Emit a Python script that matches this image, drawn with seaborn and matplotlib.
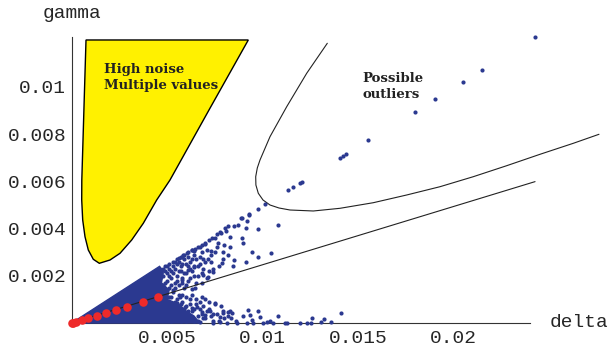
import numpy as np
import pandas as pd
import seaborn as sns
import matplotlib
matplotlib.use("Agg")
import matplotlib.pyplot as plt
from matplotlib.ticker import FixedLocator

# ---------------- data (delta, gamma) ----------------
# "High noise / Multiple values" region boundary
noise_delta = [0.000749, 0.000670, 0.000592, 0.000529, 0.000524, 0.000576, 0.000696,
               0.000869, 0.001131, 0.001445, 0.002005, 0.002529, 0.003141, 0.003749,
               0.004450, 0.005147, 0.007188, 0.009246]
noise_gamma = [0.011992, 0.009873, 0.007754, 0.006059, 0.005212, 0.004364, 0.003657,
               0.003093, 0.002699, 0.002530, 0.002669, 0.002953, 0.003517, 0.004225,
               0.005212, 0.006059, 0.009025, 0.011992]

# "Possible outliers" boundary curve
outl_delta = [0.013382, 0.012304, 0.011257, 0.010382, 0.009859, 0.009717, 0.009634,
              0.009644, 0.009770, 0.010016, 0.010382, 0.010853, 0.011429, 0.012649,
              0.014047, 0.015791, 0.017539, 0.019283, 0.021026, 0.022775, 0.024518,
              0.026262, 0.027607]
outl_gamma = [0.011852, 0.010581, 0.009165, 0.007894, 0.006907, 0.006568, 0.006199,
              0.005847, 0.005496, 0.005212, 0.005000, 0.004873, 0.004788, 0.004746,
              0.004860, 0.005097, 0.005424, 0.005775, 0.006199, 0.006665, 0.007148,
              0.007614, 0.007996]

# straight reference line
line_delta = [0.0, 0.02426]
line_gamma = [0.0, 0.00599]

# red points
red_delta = [0.00000, 0.000094, 0.000225, 0.000524, 0.000869, 0.001309, 0.001780,
             0.002304, 0.002911, 0.003717, 0.004534]
red_gamma = [0.00000, 0.000020, 0.000055, 0.000127, 0.000210, 0.000305, 0.000420,
             0.000545, 0.000695, 0.000890, 0.001089]

# solid dense core of the cloud
core_delta = [0.0, 0.0046, 0.0048, 0.0047, 0.0051, 0.0050, 0.0056, 0.0060, 0.0064, 0.0067]
core_gamma = [0.0, 0.0024, 0.0022, 0.0017, 0.0014, 0.0010, 0.0008, 0.0005, 0.0003, 0.0]

# individual blue points
blue_delta = [
    # outlier chain
    0.024257, 0.021482, 0.020503, 0.019005, 0.017958, 0.015497, 0.014361, 0.014188,
    0.014047, 0.012073, 0.011953, 0.011602, 0.011340, 0.010120, 0.009770, 0.009298,
    0.008901,
    # upper band
    0.009283, 0.008849, 0.009194, 0.008723, 0.008200, 0.008027, 0.010818, 0.009771,
    0.009127, 0.007765, 0.007592, 0.007330, 0.008289, 0.008901, 0.008954, 0.007676,
    0.006980, 0.006718, 0.006456, 0.007294, 0.007906, 0.009425, 0.010435, 0.008289,
    0.006283, 0.006021, 0.005843, 0.007152, 0.007854, 0.008514, 0.009126, 0.009770,
    0.008461, 0.006404, 0.006105, 0.007414, 0.006891, 0.007152, 0.005760, 0.006807,
    0.006456, 0.006283, 0.005320, 0.005671,
    # lower band
    0.007503, 0.005498, 0.005932, 0.006283, 0.006545, 0.005671, 0.006807, 0.007241,
    0.008200, 0.008378, 0.009247, 0.009770, 0.006980, 0.007414, 0.010818, 0.006194,
    0.007765, 0.008341, 0.009425, 0.010383, 0.011168, 0.011954, 0.012305, 0.010032,
    0.008639, 0.007414, 0.006718, 0.011289, 0.012530, 0.012598, 0.013038, 0.013226,
    0.013561, 0.014101, 0.009163, 0.009508, 0.010210, 0.010556, 0.008116, 0.007765,
    0.007938, 0.008985, 0.009859, 0.009335,
    # dense zone: upper edge strip
    0.0036, 0.0038, 0.0039, 0.0041, 0.0042, 0.0044, 0.0045, 0.0046, 0.0048, 0.0049,
    0.0050, 0.0051, 0.0053, 0.0054, 0.0055, 0.0056, 0.0057, 0.0058, 0.0059, 0.0061,
    0.0063, 0.0064, 0.0066, 0.0068, 0.0070, 0.0072, 0.0075, 0.0078, 0.0081, 0.0085,
    # dense zone: above the line
    0.0037, 0.0038, 0.0039, 0.0040, 0.0041, 0.0042, 0.0043, 0.0043, 0.0044, 0.0045,
    0.0046, 0.0046, 0.0047, 0.0048, 0.0048, 0.0049, 0.0050, 0.0050, 0.0051, 0.0052,
    0.0052, 0.0053, 0.0054, 0.0054, 0.0055, 0.0056, 0.0057, 0.0057, 0.0058, 0.0059,
    0.0060, 0.0060, 0.0061, 0.0062, 0.0063, 0.0064, 0.0065, 0.0066, 0.0067, 0.0068,
    0.0070, 0.0071, 0.0073, 0.0074, 0.0076, 0.0079,
    # dense zone: below the line
    0.0037, 0.0038, 0.0040, 0.0041, 0.0042, 0.0043, 0.0044, 0.0045, 0.0046, 0.0047,
    0.0048, 0.0049, 0.0050, 0.0051, 0.0052, 0.0052, 0.0053, 0.0054, 0.0055, 0.0056,
    0.0057, 0.0057, 0.0058, 0.0059, 0.0060, 0.0061, 0.0062, 0.0063, 0.0064, 0.0065,
    0.0066, 0.0067, 0.0068, 0.0069, 0.0071, 0.0072, 0.0074, 0.0076, 0.0078, 0.0080,
    0.0083, 0.0086,
]
blue_gamma = [
    # outlier chain
    0.012106, 0.010720, 0.010212, 0.009479, 0.008941, 0.007742, 0.007148, 0.007076,
    0.006979, 0.005987, 0.005945, 0.005775, 0.005636, 0.005042, 0.004831, 0.004606,
    0.004436,
    # upper band
    0.004589, 0.004436, 0.004334, 0.004165, 0.004110, 0.004012, 0.004152, 0.003983,
    0.004012, 0.003868, 0.003771, 0.003589, 0.003631, 0.003589, 0.003402, 0.003377,
    0.003334, 0.003233, 0.003123, 0.003063, 0.002995, 0.003021, 0.002979, 0.003233,
    0.003093, 0.002953, 0.002881, 0.002699, 0.002555, 0.002669, 0.002597, 0.002784,
    0.002415, 0.002385, 0.002246, 0.002174, 0.002034, 0.001936, 0.001822, 0.001708,
    0.001470, 0.001428, 0.001326, 0.001089,
    # lower band
    0.000835, 0.000835, 0.000691, 0.000623, 0.000665, 0.000551, 0.000479, 0.000508,
    0.000479, 0.000411, 0.000551, 0.000508, 0.000339, 0.000381, 0.000297, 0.000267,
    0.000242, 0.000199, 0.000127, 0.000097, 0.000020, 0.000020, 0.000020, 0.000020,
    0.000020, 0.000020, 0.000055, 0.000010, 0.000020, 0.000199, 0.000030, 0.000157,
    0.000030, 0.000411, 0.000010, 0.000010, 0.000030, 0.000010, 0.000020, 0.000030,
    0.000436, 0.000297, 0.000267, 0.000339,
    # dense zone: upper edge strip
    0.00170, 0.00180, 0.00190, 0.00195, 0.00210, 0.00210, 0.00220, 0.00225, 0.00230, 0.00240,
    0.00240, 0.00250, 0.00260, 0.00260, 0.00270, 0.00275, 0.00280, 0.00280, 0.00290, 0.00300,
    0.00310, 0.00305, 0.00320, 0.00330, 0.00340, 0.00350, 0.00360, 0.00380, 0.00390, 0.00410,
    # dense zone: above the line
    0.0014, 0.0012, 0.0016, 0.0013, 0.0017, 0.0011, 0.0015, 0.0018, 0.0013, 0.0017,
    0.0014, 0.0019, 0.0012, 0.0016, 0.0020, 0.0013, 0.0018, 0.0021, 0.0015, 0.0019,
    0.0022, 0.0014, 0.0017, 0.0023, 0.0020, 0.0016, 0.0022, 0.0024, 0.0019, 0.0015,
    0.0021, 0.0025, 0.0018, 0.0023, 0.0027, 0.0020, 0.0017, 0.0024, 0.0028, 0.0021,
    0.0026, 0.0019, 0.0029, 0.0023, 0.0032, 0.0027,
    # dense zone: below the line
    0.0005, 0.0008, 0.0003, 0.0007, 0.0009, 0.0005, 0.0002, 0.0008, 0.0004, 0.0010,
    0.0006, 0.0002, 0.0009, 0.0005, 0.0011, 0.0001, 0.0007, 0.0003, 0.0010, 0.0005,
    0.0001, 0.0008, 0.0012, 0.0004, 0.0007, 0.0002, 0.0010, 0.0005, 0.0001, 0.0008,
    0.0003, 0.0006, 0.0011, 0.0002, 0.0005, 0.0009, 0.0001, 0.0004, 0.0007, 0.0002,
    0.0005, 0.0001,
]

# extra points filling the dense part of the cloud
cloud_delta = [
    0.0045, 0.0047, 0.0047, 0.0049, 0.0049, 0.0051, 0.0051, 0.0052, 0.0053, 0.0053,
    0.0054, 0.0055, 0.0055, 0.0056, 0.0056, 0.0058, 0.0058, 0.0059, 0.0059, 0.0060,
    0.0061, 0.0061, 0.0062, 0.0062, 0.0063, 0.0064, 0.0064, 0.0065, 0.0066, 0.0067,
    0.0068, 0.0069, 0.0069, 0.0071, 0.0072, 0.0073, 0.0075, 0.0077, 0.0080, 0.0082,
    0.0048, 0.0050, 0.0051, 0.0053, 0.0054, 0.0055, 0.0056, 0.0056, 0.0058, 0.0059,
    0.0060, 0.0060, 0.0061, 0.0062, 0.0063, 0.0063, 0.0064, 0.0065, 0.0066, 0.0067,
    0.0068, 0.0069, 0.0070, 0.0070, 0.0072, 0.0073, 0.0075, 0.0077, 0.0079, 0.0082,
]
cloud_gamma = [
    0.0019, 0.0015, 0.0021, 0.0017, 0.0022, 0.0020, 0.0023, 0.0016, 0.0021, 0.0024,
    0.0015, 0.0018, 0.0025, 0.0022, 0.0026, 0.0017, 0.0025, 0.0021, 0.0027, 0.0016,
    0.0024, 0.0028, 0.0019, 0.0026, 0.0022, 0.0029, 0.0024, 0.0027, 0.0020, 0.0025,
    0.0030, 0.0023, 0.0027, 0.0031, 0.0022, 0.0026, 0.0030, 0.0024, 0.0033, 0.0029,
    0.0010, 0.0006, 0.0011, 0.0003, 0.0009, 0.0006, 0.0012, 0.0002, 0.0009, 0.0006,
    0.0011, 0.0001, 0.0005, 0.0008, 0.0012, 0.0002, 0.0006, 0.0010, 0.0001, 0.0009,
    0.0004, 0.0007, 0.0010, 0.0002, 0.0006, 0.0003, 0.0008, 0.0001, 0.0005, 0.0003,
]

x_ticks = [0.005, 0.01, 0.015, 0.02]
x_tick_labels = ["0.005", "0.01", "0.015", "0.02"]
y_ticks = [0.002, 0.004, 0.006, 0.008, 0.01]
y_tick_labels = ["0.002", "0.004", "0.006", "0.008", "0.01"]

# ---------------- styling ----------------
sns.set_style("white")
plt.rcParams["font.family"] = ["DejaVu Sans"]

BLUE = "#2b3990"
RED = "#ee2a2a"
YELLOW = "#fff100"
MONO = "Liberation Mono"

fig = plt.figure(figsize=(6.11, 3.47), dpi=100)
ax = fig.add_axes([0, 0, 1, 1])

# noise region
ax.fill(noise_delta, noise_gamma, facecolor=YELLOW, edgecolor="black",
        linewidth=1.0, zorder=1)

# outlier boundary curve
ax.plot(outl_delta, outl_gamma, color="#222222", linewidth=0.8, zorder=2)

# dense core + points
ax.fill(core_delta, core_gamma, facecolor=BLUE, edgecolor=BLUE, linewidth=1.0, zorder=3)
blue_df = pd.DataFrame({"delta": blue_delta + cloud_delta,
                        "gamma": blue_gamma + cloud_gamma})
sns.scatterplot(data=blue_df, x="delta", y="gamma", ax=ax, color=BLUE, s=9,
                linewidth=0, zorder=4, legend=False)

# straight line
ax.plot(line_delta, line_gamma, color="#222222", linewidth=0.8, zorder=5)

# red points
red_df = pd.DataFrame({"delta": red_delta, "gamma": red_gamma})
sns.scatterplot(data=red_df, x="delta", y="gamma", ax=ax, color=RED, s=38,
                linewidth=0, zorder=6, legend=False)

# ---------------- axes ----------------
ax.set_xlim(-0.003754, 0.028236)
ax.set_ylim(-0.001017, 0.013686)
ax.set_xlabel("")
ax.set_ylabel("")
ax.patch.set_alpha(0)

for side in ("top", "right"):
    ax.spines[side].set_visible(False)
ax.spines["left"].set_position(("data", 0))
ax.spines["bottom"].set_position(("data", 0))
ax.spines["left"].set_bounds(0, 0.0121)
ax.spines["bottom"].set_bounds(0, 0.0240)
for side in ("left", "bottom"):
    ax.spines[side].set_color("#333333")
    ax.spines[side].set_linewidth(0.8)

ax.xaxis.set_major_locator(FixedLocator(x_ticks))
ax.yaxis.set_major_locator(FixedLocator(y_ticks))
ax.xaxis.set_minor_locator(FixedLocator([i * 0.001 for i in range(1, 25)]))
ax.yaxis.set_minor_locator(FixedLocator([i * 0.0005 for i in range(1, 25)]))
ax.set_xticklabels(x_tick_labels, fontfamily=MONO, fontsize=14)
ax.set_yticklabels(y_tick_labels, fontfamily=MONO, fontsize=14)
ax.tick_params(axis="both", which="major", direction="in", length=4, width=0.7,
               color="#333333")
ax.tick_params(axis="both", which="minor", direction="in", length=2.5, width=0.6,
               color="#333333")
ax.tick_params(axis="x", which="major", pad=5)
ax.tick_params(axis="y", which="major", pad=4)

ax.text(0.02504, 0.0, "delta", fontfamily=MONO, fontsize=14, ha="left", va="center")
ax.text(0.0, 0.01312, "gamma", fontfamily=MONO, fontsize=14, ha="center", va="center")

ax.text(0.00169, 0.01102, "High noise\nMultiple values", fontfamily="DejaVu Serif",
        fontweight="bold", fontsize=9.5, ha="left", va="top", linespacing=1.3,
        color="#222222", zorder=7)
ax.text(0.015215, 0.01062, "Possible\noutliers", fontfamily="DejaVu Serif",
        fontweight="bold", fontsize=9.5, ha="left", va="top", linespacing=1.3,
        color="#222222", zorder=7)

fig.savefig("out.png", dpi=100)
